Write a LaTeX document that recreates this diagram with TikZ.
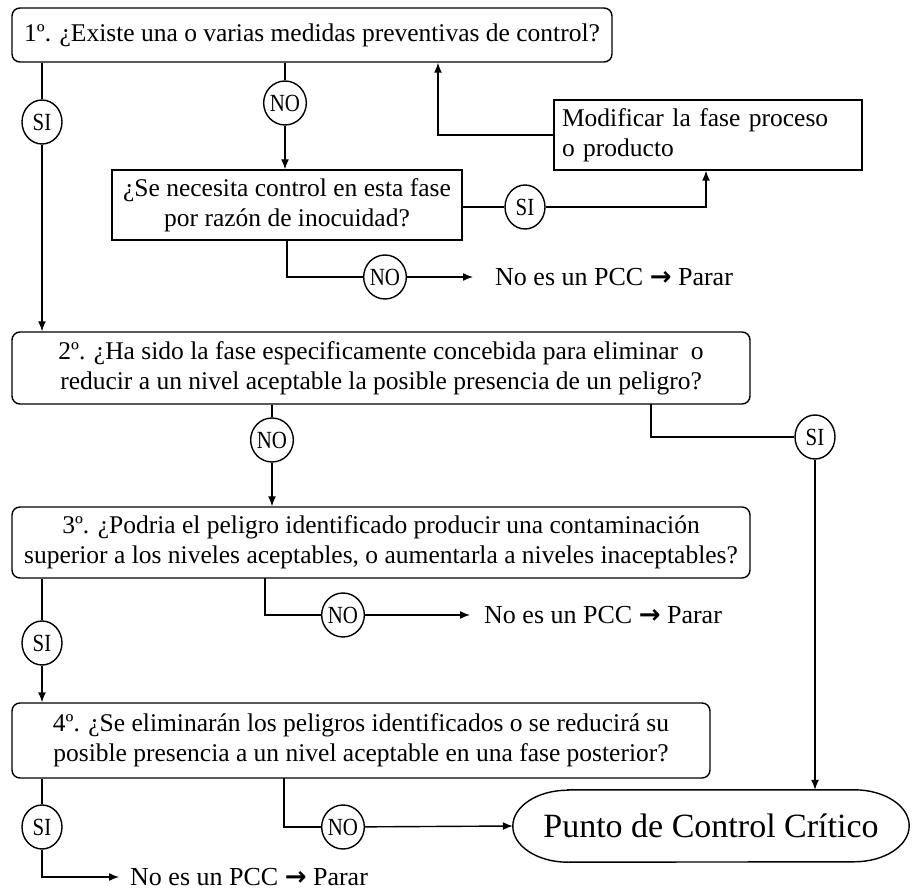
\documentclass[tikz,border=0pt]{standalone}
\usepackage{fontspec}
\setmainfont{Liberation Serif}
\newfontfamily\arrowfont{DejaVu Sans}
\usetikzlibrary{arrows.meta,shapes.geometric,calc}
\newcommand{\pccarrow}{{\arrowfont\bfseries →}}
\newcommand{\lbltext}[1]{\scalebox{0.95}[1.12]{#1}}
\begin{document}
\begin{tikzpicture}[x=1pt,y=-1pt,
  lw/.style={line width=1.4pt},
  rbox/.style={draw,lw,rounded corners=8pt,inner sep=0pt,align=center,font=\fontsize{25.5}{30}\selectfont},
  sbox/.style={draw,lw,inner sep=0pt,align=center,font=\fontsize{25.5}{30}\selectfont},
  lbl/.style={draw,lw,ellipse,minimum width=40pt,minimum height=44pt,inner sep=0pt,font=\fontsize{22}{24}\selectfont},
  stoptxt/.style={anchor=west,inner sep=0pt,font=\fontsize{26}{30}\selectfont},
  conn/.style={lw},
  arr/.style={lw,-{Latex[length=10pt,width=8pt]}}]
\useasboundingbox (0,0) rectangle (914,890);

% boxes
\node[rbox,minimum width=600pt,minimum height=54pt] (b1) at (312,35) {1º. ¿Existe una o varias medidas preventivas de control?};
\node[sbox,minimum width=350pt,minimum height=70pt] (need) at (287,205) {¿Se necesita control en esta fase\\por razón de inocuidad?};
\node[sbox,minimum width=308pt,minimum height=70pt,align=left,text width=292pt] (modif) at (708,135) {Modificar la fase proceso\\o producto};
\node[rbox,minimum width=738pt,minimum height=72pt] (b2) at (381,368) {2º. ¿Ha sido la fase especificamente concebida para eliminar~ o\\reducir a un nivel aceptable la posible presencia de un peligro?};
\node[rbox,minimum width=738pt,minimum height=71pt] (b3) at (381,542.5) {3º. ¿Podria el peligro identificado producir una contaminación\\superior a los niveles aceptables, o aumentarla a niveles inaceptables?};
\node[rbox,minimum width=698pt,minimum height=75pt] (b4) at (361,740.5) {4º. ¿Se eliminarán los peligros identificados o se reducirá su\\posible presencia a un nivel aceptable en una fase posterior?};
\node[minimum width=396pt,minimum height=72pt,inner sep=0pt,font=\fontsize{34}{38}\selectfont] (punto) at (711,826) {Punto de Control Crítico};
\draw[lw] ([xshift=55pt]punto.north west) -- ([xshift=-55pt]punto.north east)
  arc[start angle=-90,end angle=90,x radius=55,y radius=36]
  -- ([xshift=55pt]punto.south west)
  arc[start angle=90,end angle=270,x radius=55,y radius=36] -- cycle;

% stop texts
\node[stoptxt] (stop1) at (495,277) {No es un PCC \pccarrow{} Parar};
\node[stoptxt] (stop2) at (484,615) {No es un PCC \pccarrow{} Parar};
\node[stoptxt] (stop3) at (130,877) {No es un PCC \pccarrow{} Parar};

% labels
\node[lbl] (si1) at (42,122) {\lbltext{SI}};
\node[lbl] (no1) at (285,103) {\lbltext{NO}};
\node[lbl] (si2) at (525,207) {\lbltext{SI}};
\node[lbl] (no2) at (385,277) {\lbltext{NO}};
\node[lbl] (no3) at (272,440) {\lbltext{NO}};
\node[lbl] (si3) at (815,437) {\lbltext{SI}};
\node[lbl] (no4) at (343,615) {\lbltext{NO}};
\node[lbl] (si4) at (42,643) {\lbltext{SI}};
\node[lbl] (no5) at (343,827) {\lbltext{NO}};
\node[lbl] (si5) at (42,827) {\lbltext{SI}};

% helper coordinates
\coordinate (c1) at (706,207);
\coordinate (c2) at (438,135);
\coordinate (c3) at (287,240);
\coordinate (c4) at (651,404);
\coordinate (c5) at (265,578);
\coordinate (c6) at (284,778);

% connectors
\draw[conn] (b1.south -| si1) -- (si1);
\draw[arr] (si1) -- (b2.north -| si1);
\draw[conn] (b1.south -| no1) -- (no1);
\draw[arr] (no1) -- (need.north -| no1);
\draw[conn] (need.east |- si2) -- (si2);
\draw[arr] (si2) -- (c1) -- (modif.south -| c1);
\draw[arr] (modif.west |- c2) -- (c2) -- (b1.south -| c2);
\draw[conn] (c3) |- (no2);
\draw[arr] (no2) -- ([xshift=-22pt]stop1.west);
\draw[conn] (b2.south -| no3) -- (no3);
\draw[arr] (no3) -- (b3.north -| no3);
\draw[conn] (c4) |- (si3);
\draw[arr] (si3) -- (punto.north -| si3);
\draw[conn] (c5) |- (no4);
\draw[arr] (no4) -- ([xshift=-14pt]stop2.west);
\draw[conn] (b3.south -| si4) -- (si4);
\draw[arr] (si4) -- (b4.north -| si4);
\draw[conn] (c6) |- (no5);
\draw[arr] (no5) -- (punto.west);
\draw[conn] (b4.south -| si5) -- (si5);
\draw[arr] (si5) |- ([xshift=-11pt]stop3.west);
\end{tikzpicture}
\end{document}
